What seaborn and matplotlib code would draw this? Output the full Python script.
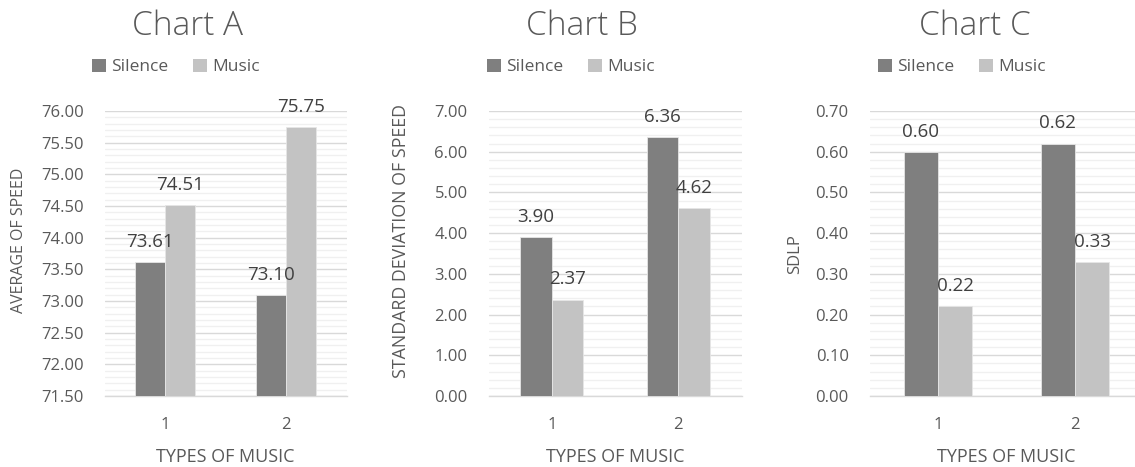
import matplotlib
matplotlib.use("Agg")
import matplotlib.pyplot as plt
from matplotlib.patches import Patch
from matplotlib.ticker import MultipleLocator, FormatStrFormatter
import pandas as pd
import seaborn as sns

# ---- data -------------------------------------------------------------
music_types = ["1", "2"]
conditions = ["Silence", "Music"]

avg_speed_silence = [73.61, 73.10]
avg_speed_music = [74.51, 75.75]

sd_speed_silence = [3.90, 6.36]
sd_speed_music = [2.37, 4.62]

sdlp_silence = [0.60, 0.62]
sdlp_music = [0.22, 0.33]

chart_titles = ["Chart A", "Chart B", "Chart C"]
y_titles = ["AVERAGE OF SPEED", "STANDARD DEVIATION OF SPEED", "SDLP"]
x_title = "TYPES OF MUSIC"

# ---- styling ----------------------------------------------------------
sns.set_theme(style="white")
plt.rcParams["font.family"] = ["Open Sans", "DejaVu Sans"]

TEXT = "#595959"
LABEL = "#404040"
palette = {"Silence": "#7f7f7f", "Music": "#c3c3c3"}
MAJOR_GRID = "#d9d9d9"
MINOR_GRID = "#f0f0f0"

W, H = 1135, 467
fig = plt.figure(figsize=(W / 100, H / 100), dpi=100)

# per-panel layout (pixels): axes left/right, title centre, legend centre,
# y-title centre
panels = [
    dict(left=104.5, right=346.5, title_x=188, legend_x=176,
         ylab_x=19, ylab_y=240, ylab_size=11.5,
         ylim=(71.5, 76.0), major=0.5, minor=0.1),
    dict(left=488.5, right=741.5, title_x=582, legend_x=571,
         ylab_x=401, ylab_y=241.5, ylab_size=12.8,
         ylim=(0.0, 7.0), major=1.0, minor=0.2),
    dict(left=869.5, right=1143.5, title_x=975, legend_x=962,
         ylab_x=795, ylab_y=254, ylab_size=12,
         ylim=(0.0, 0.70), major=0.1, minor=0.02),
]
series = [
    (avg_speed_silence, avg_speed_music),
    (sd_speed_silence, sd_speed_music),
    (sdlp_silence, sdlp_music),
]

top_px, bottom_px = 111, 396

for i, (p, (sil, mus)) in enumerate(zip(panels, series)):
    width_px = p["right"] - p["left"]
    height_px = bottom_px - top_px
    ax = fig.add_axes([p["left"] / W, 1 - bottom_px / H,
                       width_px / W, height_px / H])
    df = pd.DataFrame({
        "type": music_types * 2,
        "condition": [conditions[0]] * len(sil) + [conditions[1]] * len(mus),
        "value": list(sil) + list(mus),
    })
    sns.barplot(data=df, x="type", y="value", hue="condition",
                order=music_types, hue_order=conditions, palette=palette,
                width=0.5, gap=0, legend=False, ax=ax, zorder=3,
                errorbar=None, edgecolor="#e6e6e6", linewidth=0.6)

    for cont in ax.containers:
        ax.bar_label(cont, fmt="%.2f", padding=8, fontsize=13.5, color=LABEL)

    ax.set_ylim(*p["ylim"])
    ax.yaxis.set_major_locator(MultipleLocator(p["major"]))
    ax.yaxis.set_minor_locator(MultipleLocator(p["minor"]))
    ax.yaxis.set_major_formatter(FormatStrFormatter("%.2f"))
    ax.grid(axis="y", which="major", color=MAJOR_GRID, linewidth=1.0, zorder=0)
    ax.grid(axis="y", which="minor", color=MINOR_GRID, linewidth=1.0, zorder=0)
    ax.set_axisbelow(True)
    for side in ["top", "right", "left"]:
        ax.spines[side].set_visible(False)
    ax.spines["bottom"].set_color(MAJOR_GRID)
    ax.spines["bottom"].set_linewidth(1.0)
    ax.tick_params(axis="both", which="both", length=0, labelsize=12,
                   labelcolor=TEXT)
    ax.tick_params(axis="y", pad=15)
    ax.tick_params(axis="x", pad=15)
    ax.set_xlabel(x_title, fontsize=13, color=TEXT, labelpad=11)
    ax.set_ylabel(y_titles[i], fontsize=p["ylab_size"], color=TEXT)
    ax.yaxis.label.set_va("center")
    ax.yaxis.set_label_coords((p["ylab_x"] - p["left"]) / width_px,
                              (bottom_px - p["ylab_y"]) / height_px)

    fig.text(p["title_x"] / W, 1 - 26 / H, chart_titles[i], ha="center",
             va="center", fontsize=24, color=TEXT, fontweight="light")

    handles = [Patch(facecolor=palette[c], edgecolor="none") for c in conditions]
    fig.legend(handles, conditions, loc="center",
               bbox_to_anchor=(p["legend_x"] / W, 1 - 67 / H), ncol=2,
               frameon=False, fontsize=12.5, labelcolor=TEXT,
               handlelength=0.8, handleheight=0.8, handletextpad=0.3,
               columnspacing=1.4, borderpad=0, borderaxespad=0)

fig.savefig("out.png", dpi=100)
